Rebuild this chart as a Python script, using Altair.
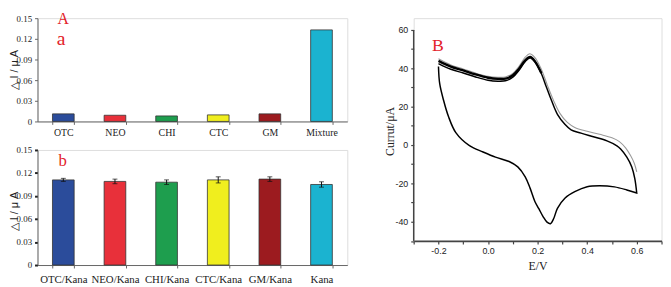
import altair as alt
import pandas as pd

# ---------------- data ----------------
cats_a = ["OTC", "NEO", "CHI", "CTC", "GM", "Mixture"]
vals_a = [0.011, 0.009, 0.008, 0.0095, 0.011, 0.133]

cats_b = ["OTC/Kana", "NEO/Kana", "CHI/Kana", "CTC/Kana", "GM/Kana", "Kana"]
vals_b = [0.111, 0.109, 0.108, 0.111, 0.112, 0.105]
err_b = [0.002, 0.003, 0.003, 0.004, 0.003, 0.0035]

bar_colors = ["#2b4c9b", "#e8303a", "#1e9e4e", "#f0ee1e", "#9c1b1f", "#1bb3d0"]
y_ticks_bar = [0, 0.03, 0.06, 0.09, 0.12, 0.15]

# CV curves (E in V, I in uA)
up_E = [-0.2, -0.15, -0.1, -0.05, 0.0, 0.04, 0.07, 0.1, 0.125, 0.15, 0.17, 0.19, 0.215,
        0.235, 0.255, 0.28, 0.31, 0.335, 0.375, 0.425, 0.48, 0.52, 0.535, 0.56, 0.58, 0.592, 0.6]
up_I = [42.5, 39.5, 37.6, 35.5, 33.8, 33.3, 33.5, 35.4, 39.0, 43.6, 45.5, 43.2, 37.3,
        30.4, 23.6, 16.0, 10.8, 7.9, 6.2, 4.3, 2.2, -0.4, -2.1, -6.3, -11.4, -17.4, -25.0]
# second (overlapping) cycle, only its upper-left part is distinct: thick band
up2_E = [-0.2, -0.15, -0.1, -0.05, 0.0, 0.04, 0.07, 0.1, 0.125, 0.15, 0.17, 0.19, 0.215]
up2_I = [43.9, 40.9, 38.9, 36.8, 35.1, 34.5, 34.6, 36.4, 39.8, 44.2, 45.9, 43.5, 37.5]
low_E = [0.6, 0.56, 0.51, 0.45, 0.40, 0.35, 0.31, 0.28, 0.265, 0.252, 0.238, 0.222, 0.205,
         0.189, 0.17, 0.15, 0.12, 0.085, 0.03, -0.02, -0.075, -0.13, -0.16, -0.18, -0.195, -0.2]
low_I = [-25.0, -23.4, -21.8, -21.2, -21.7, -24.3, -27.7, -33.0, -38.3, -41.0, -40.2, -37.3, -33.2,
         -29.4, -22.6, -16.6, -11.4, -8.6, -6.3, -3.6, -0.3, 6.5, 15.0, 23.6, 32.0, 41.0]
gray_E = [-0.2, -0.15, -0.1, -0.05, 0.0, 0.04, 0.07, 0.1, 0.125, 0.15, 0.168, 0.19, 0.215,
          0.24, 0.265, 0.29, 0.32, 0.35, 0.4, 0.45, 0.5, 0.53, 0.555, 0.575, 0.59, 0.6]
gray_I = [45.0, 41.8, 39.7, 37.5, 35.8, 35.3, 35.5, 37.4, 41.0, 45.8, 47.6, 45.5, 39.5,
          31.0, 23.0, 16.5, 11.8, 9.2, 7.2, 5.6, 3.8, 1.8, -1.5, -5.5, -9.5, -14.0]

x_ticks_cv = [-0.3, -0.2, -0.1, 0.0, 0.1, 0.2, 0.3, 0.4, 0.5, 0.6, 0.7]
y_ticks_cv = [-50, -40, -30, -20, -10, 0, 10, 20, 30, 40, 50, 60]

RED = "#e3222a"
SERIF = "Liberation Serif"
SANS = "Liberation Sans"

# ---------------- panel a ----------------
df_a = pd.DataFrame({"cat": cats_a, "val": vals_a})
bar_y_label = "datum.value == 0 ? '0' : format(datum.value, '.2f')"

xa = alt.X("cat:N", sort=cats_a, title=None,
           scale=alt.Scale(paddingInner=0.58, paddingOuter=0.29),
           axis=alt.Axis(labelAngle=0, tickBand="extent", tickSize=3, domainColor="#666",
                         tickColor="#666", labelFont=SERIF, labelFontSize=10, labelColor="#222",
                         labelPadding=3))
ya = alt.Y("val:Q", scale=alt.Scale(domain=[0, 0.15], nice=False, zero=True),
           title="△ I / μ A",
           axis=alt.Axis(values=y_ticks_bar, labelExpr=bar_y_label, grid=False, tickSize=3,
                         domainColor="#666", tickColor="#666", labelFont=SERIF, labelFontSize=9,
                         labelColor="#222", labelPadding=3, titleFont=SANS, titleFontSize=11,
                         titleFontWeight="normal", titleColor="#222", titleBaseline="middle",
                         titleX=-23.5, titleY=52))
bars_a = alt.Chart(df_a).mark_bar(stroke="#333", strokeWidth=0.8).encode(
    x=xa, y=ya,
    color=alt.Color("cat:N", scale=alt.Scale(domain=cats_a, range=bar_colors), legend=None))

lab_A = alt.Chart(pd.DataFrame({"t": ["A"]})).mark_text(
    font=SERIF, fontSize=16, color=RED, baseline="alphabetic").encode(
    x=alt.value(26), y=alt.value(6.3), text="t:N")
lab_a = alt.Chart(pd.DataFrame({"t": ["a"]})).mark_text(
    font=SERIF, fontSize=20, color=RED, baseline="alphabetic").encode(
    x=alt.value(24), y=alt.value(27), text="t:N")

chart_a = alt.layer(bars_a, lab_A, lab_a).properties(width=315, height=105)

# ---------------- panel b ----------------
df_b = pd.DataFrame({"cat": cats_b, "val": vals_b,
                     "lo": [v - e for v, e in zip(vals_b, err_b)],
                     "hi": [v + e for v, e in zip(vals_b, err_b)]})
xb = alt.X("cat:N", sort=cats_b, title=None,
           scale=alt.Scale(paddingInner=0.58, paddingOuter=0.29),
           axis=alt.Axis(labelAngle=0, tickBand="extent", tickSize=3, domainColor="#666",
                         tickColor="#666", labelFont=SERIF, labelFontSize=11, labelColor="#222",
                         labelPadding=6))
b_axis = alt.Axis(values=y_ticks_bar, labelExpr=bar_y_label, grid=False, tickSize=3, tickWidth=2,
                  domainColor="#666", tickColor="#222", labelFont=SERIF, labelFontSize=9,
                  labelColor="#222", labelPadding=3, titleFont=SANS, titleFontSize=11,
                  titleFontWeight="normal", titleColor="#222", titleBaseline="middle",
                  titleX=-23.5, titleY=62)
yscale_b = alt.Scale(domain=[0, 0.15], nice=False, zero=True)
bars_b = alt.Chart(df_b).mark_bar(stroke="#333", strokeWidth=0.8).encode(
    x=xb, y=alt.Y("val:Q", scale=yscale_b, title="△ I / μ A", axis=b_axis),
    color=alt.Color("cat:N", scale=alt.Scale(domain=cats_b, range=bar_colors), legend=None))
err_rule = alt.Chart(df_b).mark_rule(color="#111", strokeWidth=1).encode(
    x=xb, y=alt.Y("lo:Q", scale=yscale_b, title="△ I / μ A", axis=b_axis), y2="hi:Q")
cap_lo = alt.Chart(df_b).mark_tick(color="#111", size=5, thickness=1).encode(
    x=xb, y=alt.Y("lo:Q", scale=yscale_b, title="△ I / μ A", axis=b_axis))
cap_hi = alt.Chart(df_b).mark_tick(color="#111", size=5, thickness=1).encode(
    x=xb, y=alt.Y("hi:Q", scale=yscale_b, title="△ I / μ A", axis=b_axis))
lab_b = alt.Chart(pd.DataFrame({"t": ["b"]})).mark_text(
    font=SERIF, fontSize=17, color=RED, baseline="alphabetic").encode(
    x=alt.value(25.5), y=alt.value(16), text="t:N")

chart_b = alt.layer(bars_b, err_rule, cap_lo, cap_hi, lab_b).properties(width=315, height=117)

# ---------------- panel B ----------------
rows = []
for k, (e, i) in enumerate(zip(gray_E, gray_I)):
    rows.append({"E": e, "I": i, "s": "gray", "o": k})
for k, (e, i) in enumerate(zip(up2_E, up2_I)):
    rows.append({"E": e, "I": i, "s": "c2", "o": k})
n = 0
for e, i in zip(up_E, up_I):
    rows.append({"E": e, "I": i, "s": "c1", "o": n}); n += 1
for e, i in zip(low_E, low_I):
    rows.append({"E": e, "I": i, "s": "c1", "o": n}); n += 1
df_cv = pd.DataFrame(rows)

x_lab = "abs(round(datum.value*10)) % 2 == 0 ? (datum.value < -0.001 ? '-' : '') + format(abs(datum.value), '.1f') : ''"
y_lab = "abs(round(datum.value/10)) % 2 == 0 ? (datum.value < 0 ? '-' : '') + format(abs(datum.value), 'd') : ''"

xcv = alt.X("E:Q", scale=alt.Scale(domain=[-0.3, 0.7], nice=False, zero=False), title="E/V",
            axis=alt.Axis(values=x_ticks_cv, labelExpr=x_lab, grid=False, tickSize=3,
                          domainColor="#444", domainWidth=1.8, tickColor="#444", tickWidth=1.2,
                          labelFont=SANS, labelFontSize=9, labelColor="#222", labelPadding=3,
                          titleFont=SERIF, titleFontSize=12, titleFontWeight="normal",
                          titleColor="#222", titleBaseline="middle", titleY=25))
ycv = alt.Y("I:Q", scale=alt.Scale(domain=[-50, 66.15], nice=False, zero=False), title="Currut/μA",
            axis=alt.Axis(values=y_ticks_cv, labelExpr=y_lab, grid=False, domain=False, tickSize=3,
                          tickColor="#444", tickWidth=1.2, labelFont=SANS, labelFontSize=9,
                          labelColor="#222", labelPadding=3, titleFont=SERIF, titleFontSize=12,
                          titleFontWeight="normal", titleColor="#222", titleBaseline="middle",
                          titleX=-24.7, titleY=114.7))

def cv_line(series, color, width):
    return alt.Chart(df_cv).transform_filter(alt.datum.s == series).mark_line(
        interpolate="catmull-rom", color=color, strokeWidth=width).encode(
        x=xcv, y=ycv, order="o:Q")

gray_line = cv_line("gray", "#9a9a9a", 1.1)
c2_line = cv_line("c2", "#000000", 2.4)
c1_line = cv_line("c1", "#000000", 1.5)

y_domain_line = alt.Chart(pd.DataFrame({"E": [-0.3], "I": [-50], "I2": [60]})).mark_rule(
    color="#444", strokeWidth=1.5).encode(x=xcv, y=ycv, y2="I2:Q")

lab_B = alt.Chart(pd.DataFrame({"t": ["B"]})).mark_text(
    font=SERIF, fontSize=18, color=RED, baseline="alphabetic").encode(
    x=alt.value(24.6), y=alt.value(33.7), text="t:N")

chart_B = alt.layer(y_domain_line, gray_line, c2_line, c1_line, lab_B).properties(width=252, height=226.5)

left = alt.vconcat(chart_a, chart_b, spacing=29, bounds="flush")
chart = alt.hconcat(left, chart_B, spacing=34.5).properties(
    padding={"left": 0, "top": 0, "right": 0, "bottom": 0}
).configure_view(strokeWidth=0).configure_axis(grid=False).configure(background="white")

chart.save("out.html", embed_options={"renderer": "svg", "actions": False})
